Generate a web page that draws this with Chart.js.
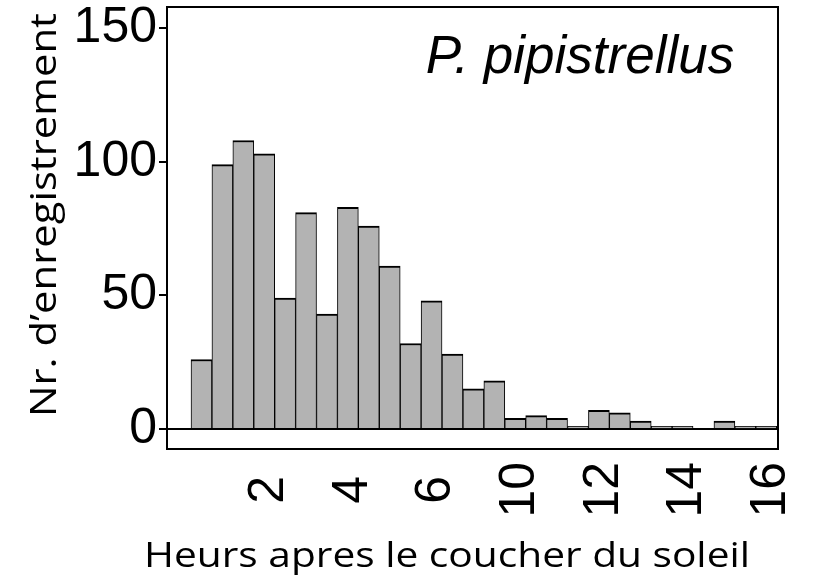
<!DOCTYPE html>
<html>
<head>
<meta charset="utf-8">
<script src="https://cdn.jsdelivr.net/npm/chart.js@4.4.1/dist/chart.umd.min.js"></script>
<style>
  html, body { margin: 0; padding: 0; background: #ffffff; }
  canvas { display: block; }
</style>
</head>
<body>
<canvas id="c" width="815" height="583"></canvas>
<script>
// ---- data ----
const binCenters = [0.25, 0.75, 1.25, 1.75, 2.25, 2.75, 3.25, 3.75, 4.25, 4.75,
                    5.25, 5.75, 6.25, 6.75, 7.25, 7.75, 8.25, 8.75, 9.25, 9.75,
                    10.25, 10.75, 11.25, 11.75, 12.25, 12.75, 13.25, 13.75];
const counts = [26, 99, 108, 103, 49, 81, 43, 83, 76, 61,
                32, 48, 28, 15, 18, 4, 5, 4, 1, 7,
                6, 3, 1, 1, 0, 3, 1, 1];
const xTickPositions = [1.87, 3.87, 5.87, 7.87, 9.87, 11.87, 13.87];
const xTickLabels = ['2', '4', '6', '10', '12', '14', '16'];
const yTickValues = [0, 50, 100, 150];
const speciesLabel = 'P. pipistrellus';
const xTitle = 'Heurs apres le coucher du soleil';
const yTitle = 'Nr. d\u2019enregistrement';

const ARIAL = '"Liberation Sans", Arial, Helvetica, sans-serif';
const TITLE_FONT = '"Open Sans", "Noto Sans", sans-serif';

function drawStretched(ctx, text, x, y, rot, targetLen) {
  ctx.save();
  ctx.translate(x, y);
  if (rot) ctx.rotate(rot);
  const w = ctx.measureText(text).width;
  ctx.scale(targetLen / w, 1);
  ctx.textAlign = 'center';
  ctx.textBaseline = 'alphabetic';
  ctx.fillText(text, 0, 0);
  ctx.restore();
}

const decor = {
  id: 'decor',
  afterDatasetsDraw(chart) {
    const { ctx, chartArea: a } = chart;
    ctx.save();
    ctx.strokeStyle = '#000';
    ctx.lineWidth = 2;
    ctx.strokeRect(a.left, a.top, a.right - a.left, a.bottom - a.top);
    ctx.restore();
  },
  afterDraw(chart) {
    const { ctx, chartArea: a } = chart;
    ctx.save();
    ctx.fillStyle = '#000';
    // species annotation
    ctx.font = 'italic 53px ' + ARIAL;
    ctx.textAlign = 'center';
    ctx.textBaseline = 'alphabetic';
    ctx.fillText(speciesLabel, a.left + 413, a.top + 66);
    // x axis title
    ctx.font = '35px ' + TITLE_FONT;
    drawStretched(ctx, xTitle, a.left + 280, a.bottom + 118, 0, 606);
    // y axis title
    ctx.font = '36px ' + TITLE_FONT;
    drawStretched(ctx, yTitle, 56, a.top + 208, -Math.PI / 2, 404);
    ctx.restore();
  }
};

new Chart(document.getElementById('c'), {
  type: 'bar',
  data: {
    datasets: [{
      data: binCenters.map((x, i) => ({ x: x, y: counts[i] })),
      backgroundColor: '#b3b3b3',
      borderColor: '#000000',
      borderWidth: { top: 2, left: 1, right: 1, bottom: 0 },
      barPercentage: 1.0,
      categoryPercentage: 1.0
    }]
  },
  options: {
    responsive: false,
    animation: false,
    devicePixelRatio: 1,
    layout: { padding: { left: 0, top: 7, right: 37, bottom: 0 } },
    plugins: {
      legend: { display: false },
      tooltip: { enabled: false },
      title: { display: false }
    },
    scales: {
      x: {
        type: 'linear',
        min: -0.574,
        max: 14.031,
        offset: false,
        border: { display: false },
        grid: { display: false, drawTicks: false },
        afterBuildTicks: (scale) => {
          scale.ticks = xTickPositions.map(v => ({ value: v }));
        },
        afterFit: (scale) => {
          scale.height = 134;
          scale.paddingLeft = 0;
          scale.paddingRight = 0;
        },
        ticks: {
          autoSkip: false,
          minRotation: 90,
          maxRotation: 90,
          padding: 13,
          color: '#000',
          font: { family: ARIAL, size: 50 },
          callback: (value, index) => {
            const t = xTickLabels[index];
            return t.length === 1 ? t + ' ' : t;
          }
        }
      },
      y: {
        type: 'linear',
        min: -7.5,
        max: 158,
        border: { display: false },
        grid: {
          drawTicks: true,
          tickLength: 8,
          lineWidth: 2,
          tickColor: '#000',
          color: (c) => (c.tick && c.tick.value === 0) ? '#000' : 'rgba(0,0,0,0)'
        },
        afterBuildTicks: (scale) => {
          scale.ticks = yTickValues.map(v => ({ value: v }));
        },
        afterFit: (scale) => {
          scale.width = 167;
          scale.paddingTop = 0;
          scale.paddingBottom = 0;
        },
        ticks: {
          padding: 2,
          color: '#000',
          font: { family: ARIAL, size: 50 }
        }
      }
    }
  },
  plugins: [decor]
});
</script>
</body>
</html>
